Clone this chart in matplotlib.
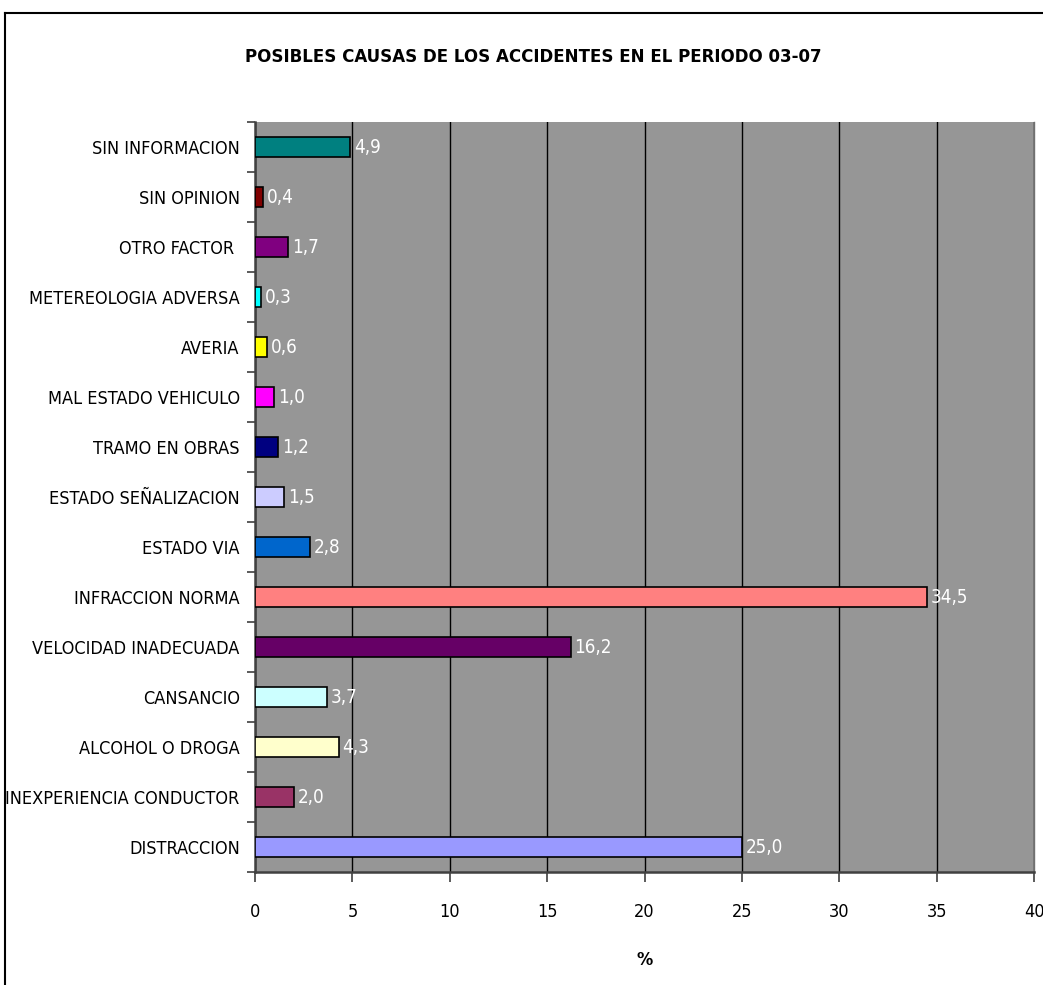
import matplotlib.pyplot as plt
from matplotlib.lines import Line2D
import numpy as np

# Datos (de abajo hacia arriba)
causas = ['DISTRACCION', 'INEXPERIENCIA CONDUCTOR', 'ALCOHOL O DROGA', 'CANSANCIO',
          'VELOCIDAD INADECUADA', 'INFRACCION NORMA', 'ESTADO VIA', 'ESTADO SEÑALIZACION',
          'TRAMO EN OBRAS', 'MAL ESTADO VEHICULO', 'AVERIA', 'METEREOLOGIA ADVERSA',
          'OTRO FACTOR ', 'SIN OPINION', 'SIN INFORMACION']
valores = [25.0, 2.0, 4.3, 3.7, 16.2, 34.5, 2.8, 1.5, 1.2, 1.0, 0.6, 0.3, 1.7, 0.4, 4.9]
colores = ['#9999FF', '#993366', '#FFFFCC', '#CCFFFF', '#660066', '#FF8080', '#0066CC',
           '#CCCCFF', '#000080', '#FF00FF', '#FFFF00', '#00FFFF', '#800080', '#800000',
           '#008080']
xticks = [0, 5, 10, 15, 20, 25, 30, 35, 40]

plt.rcParams['font.family'] = ['DejaVu Sans']
plt.rcParams['font.stretch'] = 'condensed'

fig = plt.figure(figsize=(10.43, 9.85), dpi=100)
ax = fig.add_axes([0.2445, 0.1147, 0.7469, 0.7614])
ax.set_facecolor('#969696')

y = np.arange(len(causas))
ax.barh(y, valores, height=0.4, color=colores, edgecolor='black', linewidth=1.2, zorder=3)

# etiquetas de valor en blanco
for yi, v in zip(y, valores):
    ax.text(v + 0.2, yi, f'{v:.1f}'.replace('.', ','), color='white', fontsize=13.5,
            va='center', ha='left', zorder=4)

ax.set_xlim(0, 40)
ax.set_ylim(-0.5, len(causas) - 0.5)
ax.set_xticks(xticks)
ax.set_xticklabels([str(t) for t in xticks], fontsize=13)
ax.set_yticks(y)
ax.set_yticklabels(causas, fontsize=13)
ax.set_yticks(np.arange(len(causas) + 1) - 0.5, minor=True)
ax.tick_params(axis='y', which='major', length=0, pad=11)
ax.tick_params(axis='y', which='minor', length=6, width=1.2, color='#404040')
ax.tick_params(axis='x', length=7, width=1.2, color='#404040', pad=15)

ax.grid(axis='x', color='black', linewidth=1, zorder=1)
ax.set_axisbelow(True)

for s in ['left', 'bottom']:
    ax.spines[s].set_color('#404040')
    ax.spines[s].set_linewidth(1.8)
ax.spines['right'].set_color('#707070')
ax.spines['right'].set_linewidth(1)
ax.spines['top'].set_visible(False)

ax.set_xlabel('%', fontsize=13, fontweight='bold', labelpad=22)
fig.text(0.511, 0.942, 'POSIBLES CAUSAS DE LOS ACCIDENTES EN EL PERIODO 03-07',
         fontsize=13.3, fontweight='bold', ha='center', va='center')

# Borde del area del grafico
fig.add_artist(Line2D([0.0048, 0.0048], [0, 0.9868], color='black', linewidth=1.5))
fig.add_artist(Line2D([0.0048, 1], [0.9868, 0.9868], color='black', linewidth=1.5))

fig.savefig('out.png', dpi=100)
